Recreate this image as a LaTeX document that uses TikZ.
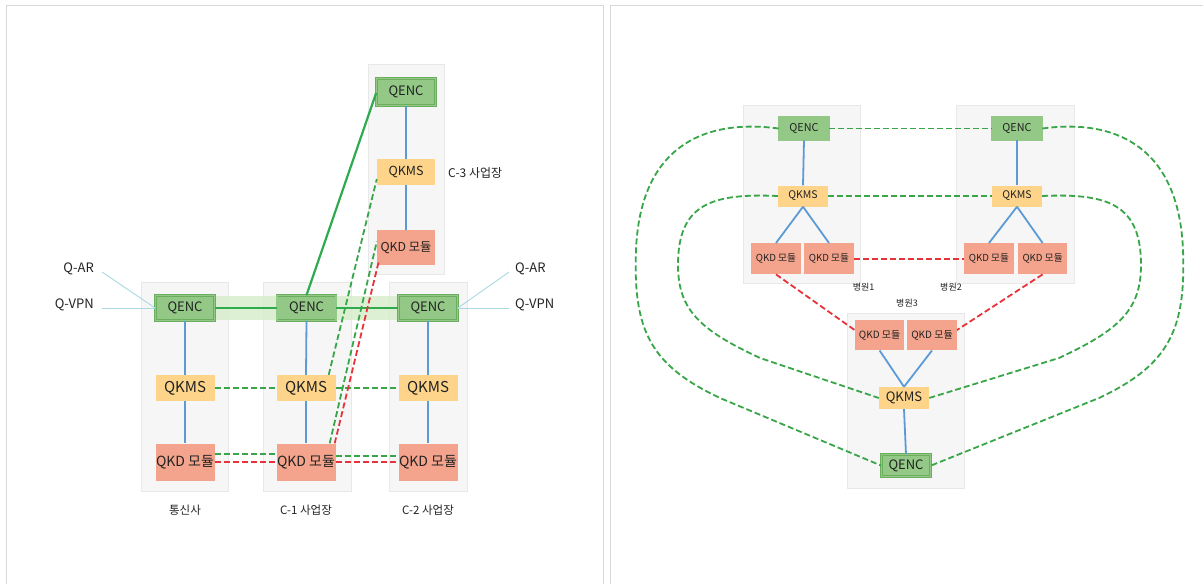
\documentclass[tikz,border=0pt]{standalone}
\usepackage{fontspec}
\setmainfont{Noto Sans CJK KR}
\usetikzlibrary{calc}
\definecolor{qencfill}{HTML}{93C887}
\definecolor{qencdraw}{HTML}{6AAE5E}
\definecolor{qkmsfill}{HTML}{FDD48A}
\definecolor{qkdfill}{HTML}{F4A48C}
\definecolor{bgfill}{HTML}{F6F6F6}
\definecolor{bgdraw}{HTML}{E8E8E8}
\definecolor{blueline}{HTML}{5B9BD5}
\definecolor{gline}{HTML}{2EAA4F}
\definecolor{gdash}{HTML}{38A648}
\definecolor{rdash}{HTML}{E8323A}
\definecolor{bandc}{HTML}{D8EDCC}
\definecolor{cyanline}{HTML}{A9D8E3}
\definecolor{framec}{HTML}{D8D8D8}
\definecolor{txt}{HTML}{222222}
\newcommand{\fs}[1]{\fontsize{#1}{#1}\selectfont}
\tikzset{
  box/.style={rectangle, inner sep=0pt, text=txt},
  qenc/.style={box, fill=qencfill, draw=qencdraw, line width=0.7pt, double=qencfill, double distance=1.3pt},
  qkms/.style={box, fill=qkmsfill},
  qkd/.style={box, fill=qkdfill},
  bgbox/.style={fill=bgfill, draw=bgdraw, line width=0.6pt},
  blink/.style={draw=blueline, line width=1.8pt},
  gsolid/.style={draw=gline, line width=2.2pt},
  gdashed/.style={draw=gdash, line width=1.8pt, dash pattern=on 6pt off 3pt},
  rdashed/.style={draw=rdash, line width=1.8pt, dash pattern=on 6pt off 3pt},
  cyan/.style={draw=cyanline, line width=0.9pt},
  lbl/.style={inner sep=0pt, text=txt},
  frameline/.style={draw=framec, line width=1pt}
}
\begin{document}
\begin{tikzpicture}[x=1pt,y=-1pt]
\useasboundingbox (0,0) rectangle (1203,584);
% panel frames
\draw[frameline] (6,584) -- (6,5) -- (603,5) -- (603,584);
\draw[frameline] (610,584) -- (610,5) -- (1203,5);

% ===== LEFT PANEL =====
\draw[bgbox] (141,282) rectangle (228,491);
\draw[bgbox] (263.5,282) rectangle (351,491.5);
\draw[bgbox] (389,282) rectangle (467,491.5);
\draw[bgbox] (368,64.5) rectangle (444,274.5);
\fill[bandc, opacity=0.85] (214,296) rectangle (399,320);

\node[qenc, minimum width=59pt, minimum height=25pt, font=\fs{13}] (t1enc) at (185,308) {QENC};
\node[qkms, minimum width=59pt, minimum height=26pt, font=\fs{15}] (t1kms) at (185,388) {QKMS};
\node[qkd,  minimum width=59pt, minimum height=37pt, font=\fs{14}] (t1kd) at (185,462) {QKD 모듈};

\node[qenc, minimum width=59pt, minimum height=25pt, font=\fs{13}] (c1enc) at (306.5,308) {QENC};
\node[qkms, minimum width=59pt, minimum height=26pt, font=\fs{15}] (c1kms) at (306,388) {QKMS};
\node[qkd,  minimum width=59pt, minimum height=37pt, font=\fs{14}] (c1kd) at (306,462) {QKD 모듈};

\node[qenc, minimum width=59pt, minimum height=25pt, font=\fs{13}] (c2enc) at (428,308) {QENC};
\node[qkms, minimum width=59pt, minimum height=26pt, font=\fs{15}] (c2kms) at (428,388) {QKMS};
\node[qkd,  minimum width=59pt, minimum height=37pt, font=\fs{14}] (c2kd) at (428,462) {QKD 모듈};

\node[qenc, minimum width=59pt, minimum height=26.5pt, font=\fs{13}] (c3enc) at (406,92) {QENC};
\node[qkms, minimum width=58pt, minimum height=26.5pt, font=\fs{12.5}] (c3kms) at (406,172) {QKMS};
\node[qkd,  minimum width=58pt, minimum height=35pt, font=\fs{12.3}] (c3kd) at (406,247.5) {QKD 모듈};

\node[lbl, font=\fs{11.5}] (lt1) at (185,510) {통신사};
\node[lbl, font=\fs{11.5}] (lc1) at (306,510) {C-1 사업장};
\node[lbl, font=\fs{11.5}] (lc2) at (428,510) {C-2 사업장};
\node[lbl, font=\fs{12}, anchor=west] (lc3) at (448,173) {C-3 사업장};

\node[lbl, font=\fs{13}, anchor=east] (qar1) at (94,269) {Q-AR};
\node[lbl, font=\fs{13}, anchor=east] (qvpn1) at (94,305) {Q-VPN};
\node[lbl, font=\fs{13}, anchor=west] (qar2) at (515,269) {Q-AR};
\node[lbl, font=\fs{13}, anchor=west] (qvpn2) at (515,305) {Q-VPN};
\coordinate (qa1) at (102,272);
\coordinate (qv1) at (102,308);
\coordinate (qa2) at (509,272);
\coordinate (qv2) at (509,308);
\draw[cyan] (qa1) -- (t1enc.west);
\draw[cyan] (qv1) -- (t1enc.west);
\draw[cyan] (qa2) -- (c2enc.east);
\draw[cyan] (qv2) -- (c2enc.east);

% blue verticals
\foreach \c in {t1,c1,c2,c3}{
  \draw[blink] (\c enc.south) -- (\c kms.north);
  \draw[blink] (\c kms.south) -- (\c kd.north);
}
% solid green
\draw[gsolid] (t1enc.east) -- (c1enc.west);
\draw[gsolid] (c1enc.east) -- (c2enc.west);
\draw[gsolid] (c1enc.north) -- ([yshift=-1pt]c3enc.west);
% dashed
\draw[gdashed] (t1kms.east) -- (c1kms.west);
\draw[gdashed] (c1kms.east) -- (c2kms.west);
\draw[gdashed] ([yshift=8pt]t1kd.east) -- ([yshift=8pt]c1kd.west);
\draw[gdashed] ([yshift=6pt]c1kd.east) -- ([yshift=6pt]c2kd.west);
\draw[rdashed] (t1kd.east) -- (c1kd.west);
\draw[rdashed] (c1kd.east) -- (c2kd.west);
\draw[gdashed] ([xshift=-7pt]c1kms.north east) -- ([yshift=-7pt]c3kms.west);
\draw[gdashed] ([xshift=-6pt]c1kd.north east) -- ([yshift=6pt]c3kd.west);
\draw[rdashed] ([xshift=-1pt]c1kd.north east) -- ([xshift=2pt,yshift=4pt]c3kd.south west);

% ===== RIGHT PANEL =====
\draw[bgbox] (743,105.4) rectangle (860,283);
\draw[bgbox] (956.6,105.4) rectangle (1074,283);
\draw[bgbox] (847,313) rectangle (964.6,488);

\node[qenc, minimum width=50pt, minimum height=23pt, font=\fs{10.8}] (e1) at (804,128.5) {QENC};
\node[qkms, minimum width=50pt, minimum height=21pt, font=\fs{10.5}] (m1) at (803,196) {QKMS};
\node[qkd,  minimum width=49.6pt, minimum height=31pt, font=\fs{9.7}] (k1a) at (776,258.7) {QKD 모듈};
\node[qkd,  minimum width=49.6pt, minimum height=31pt, font=\fs{9.7}] (k1b) at (829,258.7) {QKD 모듈};

\node[qenc, minimum width=50pt, minimum height=23pt, font=\fs{10.8}] (e2) at (1017,128.5) {QENC};
\node[qkms, minimum width=50pt, minimum height=21pt, font=\fs{10.5}] (m2) at (1017,196) {QKMS};
\node[qkd,  minimum width=49.6pt, minimum height=31pt, font=\fs{9.7}] (k2a) at (989,258.7) {QKD 모듈};
\node[qkd,  minimum width=49.6pt, minimum height=31pt, font=\fs{9.7}] (k2b) at (1042.6,258.7) {QKD 모듈};

\node[qkd,  minimum width=49.6pt, minimum height=30.5pt, font=\fs{10}] (k3a) at (879.6,335) {QKD 모듈};
\node[qkd,  minimum width=49.6pt, minimum height=30.5pt, font=\fs{10}] (k3b) at (932,335) {QKD 모듈};
\node[qkms, minimum width=50pt, minimum height=22pt, font=\fs{13}] (m3) at (904,398) {QKMS};
\node[qenc, minimum width=49pt, minimum height=22pt, font=\fs{13}] (e3) at (906,465.6) {QENC};

\node[lbl, font=\fs{9}] (h1) at (863.6,287) {병원1};
\node[lbl, font=\fs{9}] (h2) at (951,287) {병원2};
\node[lbl, font=\fs{9}] (h3) at (907,303.5) {병원3};

\draw[blink] (e1.south) -- (m1.north);
\draw[blink] (m1.south) -- (k1a.north);
\draw[blink] (m1.south) -- (k1b.north);
\draw[blink] (e2.south) -- (m2.north);
\draw[blink] (m2.south) -- (k2a.north);
\draw[blink] (m2.south) -- (k2b.north);
\draw[blink] (k3a.south) -- (m3.north);
\draw[blink] (k3b.south) -- (m3.north);
\draw[blink] (m3.south) -- (e3.north);

\draw[gdashed] (e1.east) -- (e2.west);
\draw[gdashed] (m1.east) -- (m2.west);
\draw[rdashed] (k1b.east) -- (k2a.west);
\draw[rdashed] (k1a.south) -- ([yshift=5pt]k3a.west);
\draw[rdashed] (k2b.south) -- ([yshift=5pt]k3b.east);

\draw[gdashed] (e1.west) .. controls (700,118) and (640,150) .. (636,250)
  .. controls (633,330) and (650,365) .. (720,398) -- (e3.west);
\draw[gdashed] (e2.east) .. controls (1119,118) and (1179,150) .. (1183,250)
  .. controls (1186,330) and (1169,365) .. (1099,398) -- (e3.east);
\draw[gdashed] (m1.west) .. controls (710,193) and (678,205) .. (678,265)
  .. controls (678,310) and (700,330) .. (760,358) -- (m3.west);
\draw[gdashed] (m2.east) .. controls (1109,193) and (1141,205) .. (1141,265)
  .. controls (1141,310) and (1119,330) .. (1059,358) -- (m3.east);
\end{tikzpicture}
\end{document}
